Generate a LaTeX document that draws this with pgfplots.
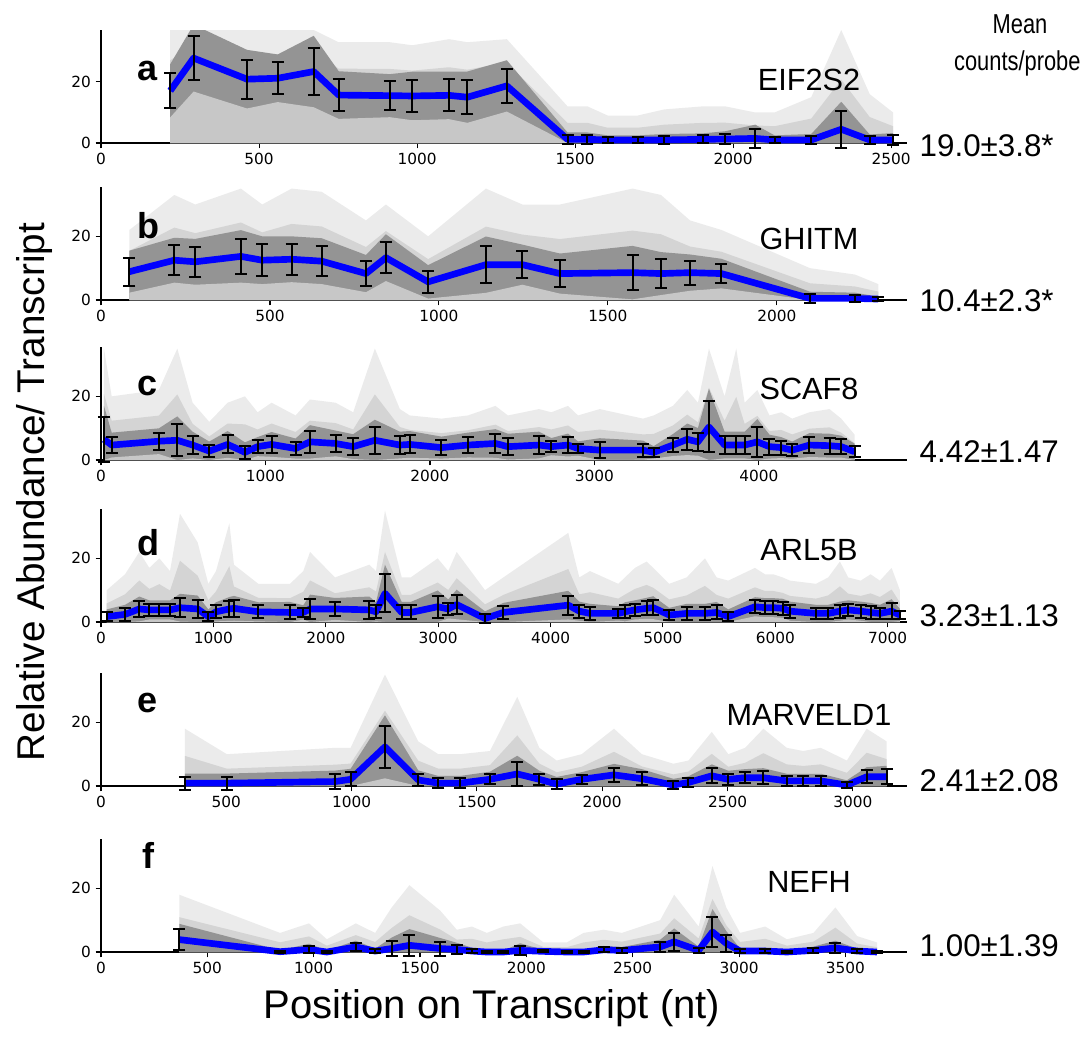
\documentclass[border=0pt]{standalone}
\usepackage{fontspec}
\setmainfont{Liberation Sans}
\newfontfamily\dejavu{DejaVu Sans}
\usepackage{graphicx}
\usepackage{pgfplots}
\pgfplotsset{compat=1.18}
\usepackage{pgfplotstable}

% columns: position, mean, error, top of the grey traces
\pgfplotstableread{
x y e hi
219 17.1 5.8 37
293 27.8 7.3 37
462 20.9 6.4 37
559 21.2 5.2 37
673 23.4 7.8 37
752 15.7 5.2 33
914 15.5 4.7 33
985 15.4 5.3 32
1101 15.6 5.2 34
1159 15.0 5.6 33
1284 18.7 5.6 34
1476 1.2 1.5 12
1539 1.2 1.5 12
1603 1.0 1.0 9
1698 1.0 1.0 9
1782 1.0 1.3 11
1904 1.2 1.3 12
1975 1.3 1.7 12
2070 1.5 3.0 10
2131 1.0 1.0 10
2247 1.0 1.3 15
2342 4.5 6.0 37
2432 1.0 1.2 16
2506 1.0 1.5 10
}\tabA
\pgfplotstableread{
x y e hi
84 8.9 4.4 22
217 12.5 4.7 33
279 12.0 4.8 30
414 13.7 5.5 35
477 12.5 5.0 30
564 12.8 4.8 35
653 12.2 4.8 34
784 8.3 3.9 25
843 13.3 4.9 30
968 5.7 3.5 20
1139 11.1 5.9 35
1247 11.1 4.2 30
1358 8.3 4.2 30
1573 8.6 5.6 35
1657 8.3 4.5 33
1743 8.6 3.8 25
1836 8.3 3.1 22
2098 0.5 1.4 10
2231 0.5 1.2 8
2300 0.3 0.5 5
}\tabB
\pgfplotstableread{
x y e hi
18 6.5 7.0 35
65 4.7 2.6 20
352 5.9 2.7 22
464 6.2 5.0 35
557 4.7 2.8 18
658 2.8 2.0 12
770 4.9 2.8 18
875 2.4 2.1 20
952 4.2 2.0 15
1037 4.9 2.6 18
1183 3.6 2.1 14
1270 5.7 3.5 19
1426 5.2 2.7 18
1533 4.2 2.6 15
1665 6.2 4.3 35
1817 4.7 2.8 16
1877 4.9 2.8 14
2070 3.9 2.3 13
2231 4.7 2.6 14
2398 5.2 3.0 17
2474 4.2 2.7 14
2663 4.7 2.8 16
2738 4.2 1.8 15
2839 4.7 2.4 17
2900 3.6 1.5 14
3032 3.1 2.5 16
3295 3.1 2.0 13
3360 2.4 1.3 14
3477 4.7 2.3 17
3564 6.5 3.3 22
3629 5.7 2.9 18
3696 10.4 8.0 35
3791 4.7 2.8 20
3862 4.7 2.8 35
3913 4.7 2.8 18
3990 5.7 4.8 22
4064 4.2 2.5 14
4135 3.9 2.2 15
4202 3.1 1.8 13
4307 4.7 2.5 15
4429 4.5 2.5 16
4500 4.2 2.3 13
4581 2.6 1.7 8
}\tabC
\pgfplotstableread{
x y e hi
51 1.7 1.5 10
214 2.4 2.0 15
341 4.1 2.6 22
430 3.8 2.0 17
519 3.8 2.0 20
614 3.8 2.0 16
703 4.5 2.9 34
860 4.1 2.8 25
955 1.7 1.5 12
1023 3.2 2.0 16
1142 4.1 2.5 31
1183 4.3 2.6 18
1400 3.2 2.0 12
1682 3.0 2.2 12
1800 3.0 1.5 16
1860 4.1 3.0 22
2082 4.1 2.3 14
2387 3.8 2.8 18
2447 3.2 2.0 16
2527 9.0 6.0 35
2676 3.0 2.2 14
2756 3.0 2.2 14
2996 4.8 3.4 20
3090 4.1 2.0 16
3165 5.5 3.1 22
3417 1.1 1.5 10
3580 3.0 2.0 14
4158 5.3 3.0 28
4256 3.4 2.0 14
4351 2.7 2.0 16
4603 2.7 1.5 12
4662 3.2 2.0 14
4751 3.8 2.0 17
4855 4.3 2.2 19
4914 4.5 2.4 17
5056 2.2 1.5 12
5211 2.7 2.0 14
5374 2.7 2.0 20
5478 3.0 2.2 14
5581 1.7 1.5 13
5819 4.8 2.0 17
5908 4.5 2.0 15
5982 4.5 2.0 15
6066 4.3 2.0 14
6131 3.4 2.0 13
6362 2.7 1.8 12
6471 2.7 1.8 14
6575 3.4 2.0 19
6649 3.8 2.0 14
6760 3.4 2.0 13
6848 3.0 2.0 15
6931 2.7 1.8 13
7035 3.4 2.5 17
7109 2.2 1.3 10
}\tabD
\pgfplotstableread{
x y e hi
335 0.9 2.0 18
502 0.9 2.0 10
934 1.4 2.3 12
996 2.1 2.2 12
1133 12.3 6.6 35
1266 1.9 2.0 14
1346 0.9 1.5 10
1433 0.9 1.5 10
1552 2.1 1.6 11
1661 3.8 3.8 28
1749 2.1 1.8 12
1818 0.6 1.5 8
1918 2.1 1.5 10
2047 3.5 2.3 18
2158 2.3 2.0 10
2284 0.3 1.3 7
2344 1.1 1.3 8
2437 3.2 2.4 17
2503 2.1 1.8 10
2570 2.6 1.8 12
2643 2.6 2.0 18
2736 1.6 1.5 12
2802 1.6 1.5 11
2872 1.6 1.5 12
2976 0.3 1.0 8
3055 2.9 2.0 18
3135 2.9 2.3 14
}\tabE
\pgfplotstableread{
x y e hi
368 3.9 3.3 18
842 0.1 0.3 6
978 0.8 1.2 9
1062 0.0 0.3 4
1198 1.6 1.3 9
1289 0.3 0.5 6
1367 1.1 2.3 14
1450 2.1 3.4 21
1595 1.1 2.2 13
1673 0.8 1.4 7
1744 0.3 0.7 8
1814 0.0 0.3 6
1892 0.0 0.3 8
1971 0.5 1.5 9
2080 0.2 0.3 3
2190 0.0 0.2 3
2269 0.0 0.2 6
2363 0.7 0.8 7
2449 0.5 0.7 6
2629 1.6 1.5 10
2695 3.2 2.8 18
2810 0.5 0.8 8
2875 6.3 4.8 27
2940 2.7 2.6 14
3005 0.3 0.5 6
3123 0.3 0.7 8
3225 0.0 0.2 4
3350 0.5 0.8 6
3453 1.3 1.5 14
3555 0.3 0.5 5
3649 0.0 0.3 3
}\tabF

\pgfplotsset{
  panel/.style={
    scale only axis, width=604.5pt, height=84.75pt,
    anchor=south west, xmin=0, ymin=0, ymax=35.5, ytick={0,20},
    axis x line*=bottom, axis y line*=left,
    tick align=outside, major tick length=4pt,
    tick style={black, line width=0.8pt},
    axis line style={black, line width=0.9pt},
    ticklabel style={font=\dejavu\fontsize{11.5}{13}\selectfont},
    /pgf/number format/assume math mode=true,
    /pgf/number format/1000 sep={},
    clip mode=individual,
  },
}

% grey traces, mean line and error bars of one gene
\newcommand\drawpanel[1]{%
  \addplot[draw=none, fill=black!8] table[x=x, y=hi] {#1} \closedcycle;
  \addplot[draw=none, fill=black!17] table[x=x, y expr={0.5*(\thisrow{y}+\thisrow{hi})}] {#1} \closedcycle;
  \addplot[draw=none, fill=black!42] table[x=x, y expr={\thisrow{y}+1.5*\thisrow{e}}] {#1} \closedcycle;
  \addplot[draw=none, fill=black!22] table[x=x, y expr={max(\thisrow{y}-1.5*\thisrow{e},0)}] {#1} \closedcycle;
  \addplot[blue, line width=5pt, line join=round, clip=false] table[x=x, y=y] {#1};
  \addplot[draw=none, clip=false, error bars/.cd, y dir=both, y explicit,
    error bar style={draw=black, line width=1.5pt},
    error mark options={draw=black, rotate=90, mark size=4.5pt, line width=1.5pt}]
    table[x=x, y=y, y error=e] {#1};
}

\begin{document}
\begin{tikzpicture}
\useasboundingbox (0,0) rectangle (812.25pt,-782.25pt);

\begin{axis}[panel, at={(75.75pt,-107.25pt)}, xmax=2550, ymax=37, xtick={0,500,...,2500}]
\drawpanel{\tabA}
\end{axis}
\begin{axis}[panel, at={(75.75pt,-225pt)}, xmax=2385, xtick={0,500,...,2000}]
\drawpanel{\tabB}
\end{axis}
\begin{axis}[panel, at={(75.75pt,-345pt)}, xmax=4900, xtick={0,1000,...,4000}]
\drawpanel{\tabC}
\end{axis}
\begin{axis}[panel, at={(75.75pt,-466.5pt)}, xmax=7172, xtick={0,1000,...,7000}]
\drawpanel{\tabD}
\end{axis}
\begin{axis}[panel, at={(75.75pt,-589.5pt)}, xmax=3216, xtick={0,500,...,3000}]
\drawpanel{\tabE}
\end{axis}
\begin{axis}[panel, at={(75.75pt,-714pt)}, xmax=3790, xtick={0,500,...,3500}]
\drawpanel{\tabF}
\end{axis}

\tikzset{gene/.style={anchor=base, font=\fontsize{23}{26}\selectfont},
  lett/.style={anchor=base, font=\bfseries\fontsize{27}{30}\selectfont},
  cnt/.style={anchor=base west, font=\fontsize{23.5}{26}\selectfont}}
\node[lett] at (111pt,-60.5pt) {a};
\node[lett] at (111pt,-178.5pt) {b};
\node[lett] at (111pt,-296.25pt) {c};
\node[lett] at (111pt,-416.25pt) {d};
\node[lett] at (111pt,-534pt) {e};
\node[lett] at (111pt,-651pt) {f};

\node[gene] at (606.75pt,-67.5pt) {EIF2S2};
\node[gene] at (606.75pt,-186.75pt) {GHITM};
\node[gene] at (606.75pt,-299.25pt) {SCAF8};
\node[gene] at (606.75pt,-420pt) {ARL5B};
\node[gene] at (606.75pt,-543.75pt) {MARVELD1};
\node[gene] at (606.75pt,-669.5pt) {NEFH};

\node[cnt] at (686.25pt,-117.4pt) {19.0±3.8*};
\node[cnt] at (686.25pt,-233.6pt) {10.4±2.3*};
\node[cnt] at (686.25pt,-346.9pt) {4.42±1.47};
\node[cnt] at (686.25pt,-469.9pt) {3.23±1.13};
\node[cnt] at (686.25pt,-593.6pt) {2.41±2.08};
\node[cnt] at (686.25pt,-717.4pt) {1.00±1.39};

\node[anchor=base, font=\fontsize{20.5}{23}\selectfont] at (765pt,-25pt) {\scalebox{0.8}[1]{Mean}};
\node[anchor=base, font=\fontsize{20.5}{23}\selectfont] at (763pt,-53pt) {\scalebox{0.8}[1]{counts/probe}};

\node[rotate=90, font=\fontsize{29}{32}\selectfont] at (26.25pt,-369pt) {Relative Abundance/ Transcript};
\node[font=\fontsize{30}{33}\selectfont] at (369pt,-756pt) {Position on Transcript (nt)};
\end{tikzpicture}
\end{document}
